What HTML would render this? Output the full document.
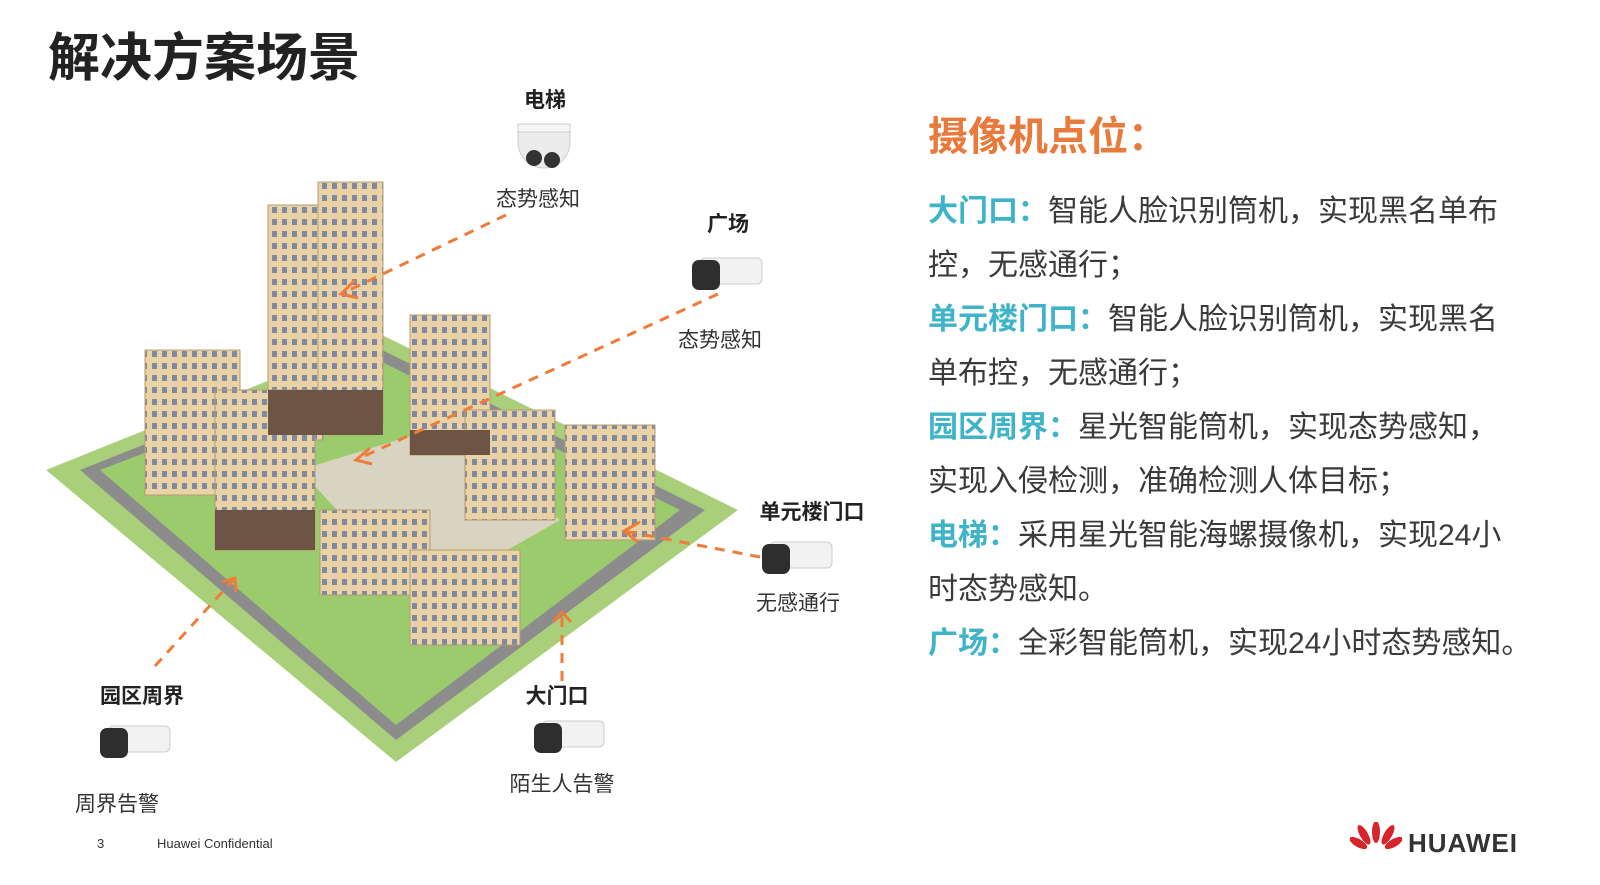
<!DOCTYPE html><html><head><meta charset="utf-8"><style>
body{margin:0;width:1600px;height:885px;background:#fff;position:relative;overflow:hidden;font-family:"Liberation Sans","Noto Sans CJK SC",sans-serif;color:#333}
.a{position:absolute;white-space:nowrap}
.t{font-size:30px;line-height:54px;color:#3a3a3a}
.c{color:#3fb3c8;font-weight:bold}
.lb{font-weight:bold;font-size:21px;color:#222;transform:translateX(-50%)}
.ls{font-size:21px;color:#333;transform:translateX(-50%)}
</style></head><body>
<div class="a" style="left:48px;top:16px;font-size:52px;font-weight:bold;color:#222">解决方案场景</div>
<div class="a" style="left:928px;top:104px;font-size:40px;font-weight:bold;color:#e87a3c">摄像机点位：</div>
<div class="a t" style="left:928px;top:185px;width:670px;white-space:normal">
<div><span class="c">大门口：</span>智能人脸识别筒机，实现黑名单布</div><div>控，无感通行；</div>
<div><span class="c">单元楼门口：</span>智能人脸识别筒机，实现黑名</div><div>单布控，无感通行；</div>
<div><span class="c">园区周界：</span>星光智能筒机，实现态势感知，</div><div>实现入侵检测，准确检测人体目标；</div>
<div><span class="c">电梯：</span>采用星光智能海螺摄像机，实现24小</div><div>时态势感知。</div>
<div><span class="c">广场：</span>全彩智能筒机，实现24小时态势感知。</div></div>
<svg class="a" style="left:0;top:0" width="900" height="800">
<defs><pattern id="w" width="10" height="12" patternUnits="userSpaceOnUse"><rect width="10" height="12" fill="#e8d2a6"/><rect x="2" y="3" width="5" height="6" fill="#7f8aa0"/></pattern></defs>
<polygon points="46,470 382,335 738,510 396,762" fill="#a9cf7a"/>
<polygon points="80,470 382,350 705,510 396,740" fill="#8c8c8c"/>
<polygon points="100,470 382,362 680,510 396,725" fill="#9ccb6e"/>
<polygon points="300,470 430,430 560,520 420,600" fill="#d9d3c2"/>
<g fill="url(#w)" stroke="#b89a70" stroke-width="1">
<rect x="268" y="205" width="55" height="235"/><rect x="318" y="182" width="65" height="240"/>
<rect x="145" y="350" width="95" height="145"/><rect x="215" y="390" width="100" height="160"/>
<rect x="410" y="315" width="80" height="140"/><rect x="465" y="410" width="90" height="110"/>
<rect x="565" y="425" width="90" height="115"/><rect x="320" y="510" width="110" height="85"/>
<rect x="410" y="550" width="110" height="95"/></g>
<g fill="#6d5444"><rect x="268" y="390" width="115" height="45"/><rect x="215" y="510" width="100" height="40"/><rect x="410" y="430" width="80" height="25"/></g>
<g stroke="#ef7c3a" stroke-width="3" stroke-dasharray="10,8" fill="none">
<line x1="506" y1="215" x2="341" y2="294"/><line x1="718" y1="294" x2="360" y2="458"/>
<line x1="760" y1="557" x2="624" y2="531"/><line x1="155" y1="666" x2="235" y2="578"/>
<line x1="562" y1="681" x2="562" y2="614"/></g>
<g stroke="#ef7c3a" stroke-width="3" fill="none">
<polyline points="355,280 341,294 358,298"/><polyline points="370,448 356,460 372,464"/>
<polyline points="640,522 624,531 638,542"/><polyline points="222,582 235,578 236,592"/>
<polyline points="553,622 562,612 571,622"/></g>
</svg>
<svg class="a" style="left:514px;top:116px" width="60" height="62"><path d="M4,14 h52 v12 a26,26 0 0 1 -52,0z" fill="#ececec" stroke="#ccc"/><rect x="4" y="8" width="52" height="8" fill="#f6f6f6" stroke="#ccc"/><circle cx="20" cy="42" r="8" fill="#333"/><circle cx="38" cy="44" r="8" fill="#333"/></svg>
<div class="a lb" style="left:545px;top:84px">电梯</div><div class="a ls" style="left:538px;top:183px">态势感知</div>
<div class="a lb" style="left:728px;top:208px">广场</div><div class="a ls" style="left:720px;top:324px">态势感知</div>
<div class="a lb" style="left:812px;top:496px">单元楼门口</div><div class="a ls" style="left:798px;top:587px">无感通行</div>
<div class="a lb" style="left:142px;top:680px">园区周界</div><div class="a ls" style="left:117px;top:788px">周界告警</div>
<div class="a lb" style="left:557px;top:680px">大门口</div><div class="a ls" style="left:562px;top:768px">陌生人告警</div>
<svg width="0" height="0" style="position:absolute"><defs><g id="b"><rect x="8" y="2" width="62" height="26" rx="5" fill="#f2f2f2" stroke="#ccc"/><rect x="0" y="4" width="28" height="30" rx="7" fill="#2e2e2e"/></g></defs></svg>
<svg class="a" style="left:692px;top:256px" width="72" height="36"><use href="#b"/></svg>
<svg class="a" style="left:762px;top:540px" width="72" height="36"><use href="#b"/></svg>
<svg class="a" style="left:100px;top:724px" width="72" height="36"><use href="#b"/></svg>
<svg class="a" style="left:534px;top:719px" width="72" height="36"><use href="#b"/></svg>
<div class="a" style="left:97px;top:836px;font-size:13px">3</div>
<div class="a" style="left:157px;top:836px;font-size:13px">Huawei Confidential</div>
<svg class="a" style="left:1350px;top:822px" width="52" height="36"><g fill="#d7252c"><ellipse cx="26" cy="10" rx="4" ry="11"/><ellipse cx="17" cy="12" rx="4" ry="11" transform="rotate(-30 17 18)"/><ellipse cx="35" cy="12" rx="4" ry="11" transform="rotate(30 35 18)"/><ellipse cx="10" cy="20" rx="4" ry="10" transform="rotate(-60 10 22)"/><ellipse cx="42" cy="20" rx="4" ry="10" transform="rotate(60 42 22)"/></g></svg>
<div class="a" style="left:1408px;top:828px;font-size:26px;font-weight:bold;color:#333;letter-spacing:1px">HUAWEI</div>
</body></html>
